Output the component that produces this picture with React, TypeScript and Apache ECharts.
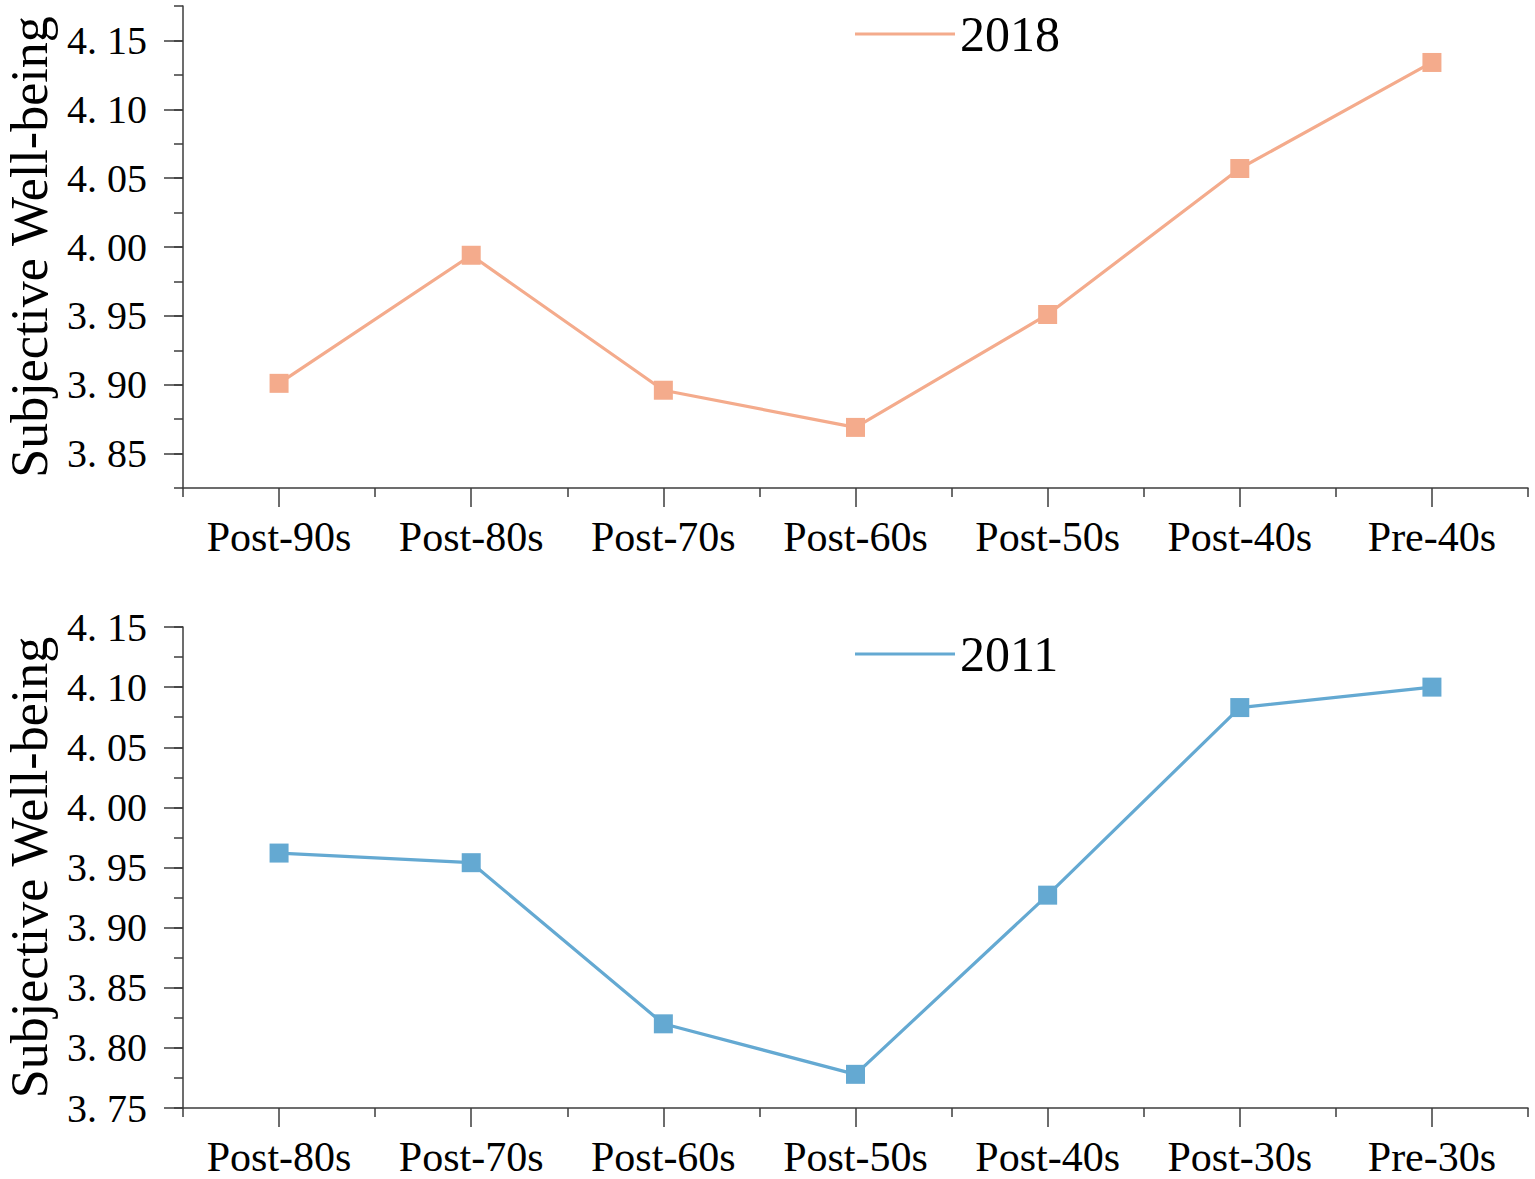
import React, { useEffect, useRef } from 'react';
import * as echarts from 'echarts';

const cats2018 = ['Post-90s', 'Post-80s', 'Post-70s', 'Post-60s', 'Post-50s', 'Post-40s', 'Pre-40s'];
const vals2018 = [3.901, 3.994, 3.896, 3.869, 3.951, 4.057, 4.134];
const ticks2018 = [3.85, 3.9, 3.95, 4.0, 4.05, 4.1, 4.15];

const cats2011 = ['Post-80s', 'Post-70s', 'Post-60s', 'Post-50s', 'Post-40s', 'Post-30s', 'Pre-30s'];
const vals2011 = [3.962, 3.954, 3.82, 3.778, 3.927, 4.083, 4.1];
const ticks2011 = [3.75, 3.8, 3.85, 3.9, 3.95, 4.0, 4.05, 4.1, 4.15];

const FONT = '"Liberation Serif", "Times New Roman", serif';
const AXIS_COLOR = '#3c3c3c';
const ORANGE = '#F4AB8C';
const BLUE = '#64A9D2';

function fmt(v: number) {
  return Number(v).toFixed(2).replace('.', '. ');
}

function panel(idx: number, top: number, height: number, cats: string[], ticks: number[], min: number, max: number) {
  const axisLine = { show: true, onZero: false, lineStyle: { color: AXIS_COLOR, width: 1.5 } };
  const xAxes = [
    {
      type: 'category', gridIndex: idx, position: 'bottom', data: cats, boundaryGap: true,
      axisLine,
      axisTick: { show: true, alignWithLabel: true, length: 19, lineStyle: { color: AXIS_COLOR, width: 1.5 } },
      axisLabel: { show: true, interval: 0, fontSize: 42, fontFamily: FONT, color: '#000', margin: 28 },
      splitLine: { show: false },
    },
    {
      type: 'category', gridIndex: idx, position: 'bottom', data: cats, boundaryGap: true,
      axisLine: { show: false, onZero: false },
      axisTick: { show: true, alignWithLabel: false, interval: 0, length: 9, lineStyle: { color: AXIS_COLOR, width: 1.5 } },
      axisLabel: { show: false },
      splitLine: { show: false },
    },
  ];
  const yAxes = [
    {
      type: 'value', gridIndex: idx, position: 'left', min, max, interval: 0.025,
      axisLine,
      axisTick: { show: true, length: 9, lineStyle: { color: AXIS_COLOR, width: 1.5 } },
      axisLabel: { show: false },
      splitLine: { show: false },
    },
    {
      type: 'value', gridIndex: idx, position: 'left', min, max,
      axisLine: { show: false, onZero: false },
      axisTick: { show: true, length: 19, customValues: ticks, lineStyle: { color: AXIS_COLOR, width: 1.5 } },
      axisLabel: {
        show: true, customValues: ticks, formatter: (v: number) => fmt(v),
        fontSize: 40, fontFamily: FONT, color: '#000', margin: 36,
      },
      splitLine: { show: false },
      name: 'Subjective Well-being',
      nameLocation: 'middle',
      nameGap: 129,
      nameTextStyle: { fontSize: 52, lineHeight: 50, fontFamily: FONT, color: '#000' },
    },
  ];
  return {
    grid: { left: 183, right: 7, top, height, containLabel: false, outerBoundsMode: 'none' },
    xAxes,
    yAxes,
  };
}

export default function App() {
  const ref = useRef<HTMLDivElement>(null);
  useEffect(() => {
    document.body.style.margin = '0';
    if (!ref.current) return;
    const chart = echarts.init(ref.current, undefined, { renderer: 'svg' });
    const p0 = panel(0, 6, 482, cats2018, ticks2018, 3.825, 4.175);
    const p1 = panel(1, 627, 481, cats2011, ticks2011, 3.75, 4.15);
    const legendBase = {
      orient: 'horizontal', icon: 'rect', itemWidth: 100, itemHeight: 3, padding: 0,
      textStyle: { fontSize: 50, fontFamily: FONT, color: '#000', padding: [0, 0, 0, 0] },
    };
    chart.setOption({
      animation: false,
      backgroundColor: '#ffffff',
      grid: [p0.grid, p1.grid],
      xAxis: [...p0.xAxes, ...p1.xAxes],
      yAxis: [...p0.yAxes, ...p1.yAxes],
      legend: [
        { ...legendBase, left: 855, top: 9, data: ['2018'] },
        { ...legendBase, left: 855, top: 629, data: ['2011'] },
      ],
      series: [
        {
          name: '2018', type: 'line', xAxisIndex: 0, yAxisIndex: 0, data: vals2018,
          symbol: 'rect', symbolSize: 19, showSymbol: true,
          lineStyle: { color: ORANGE, width: 3.2 }, itemStyle: { color: ORANGE },
        },
        {
          name: '2011', type: 'line', xAxisIndex: 2, yAxisIndex: 2, data: vals2011,
          symbol: 'rect', symbolSize: 19, showSymbol: true,
          lineStyle: { color: BLUE, width: 3.2 }, itemStyle: { color: BLUE },
        },
      ],
    });
    return () => chart.dispose();
  }, []);
  return <div ref={ref} style={{ position: 'absolute', left: 0, top: 0, width: 1535, height: 1179 }} />;
}
